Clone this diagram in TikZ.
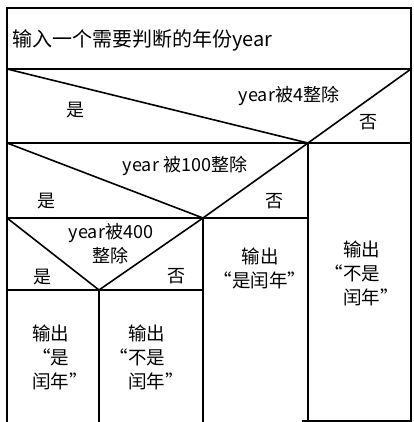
\documentclass[tikz,border=0pt]{standalone}
\usepackage{fontspec}
\setmainfont{Noto Sans CJK SC}
\begin{document}
\begin{tikzpicture}[x=1pt,y=-1pt,
  ln/.style={line width=1.6pt,black},
  lbl/.style={font=\fontsize{18}{22}\selectfont,inner sep=0pt},
  big/.style={font=\fontsize{20}{24}\selectfont,inner sep=0pt,anchor=west},
  outtxt/.style={font=\fontsize{18.5}{24}\selectfont,inner sep=0pt,align=left,anchor=west}]
\useasboundingbox (0,0) rectangle (413,422);
% corners
\coordinate (TL) at (7,8);
\coordinate (TR) at (411,8);
\coordinate (A1) at (7,69);
\coordinate (A2) at (411,69);
\coordinate (P1) at (308,143);
\coordinate (B1) at (7,143);
\coordinate (B2) at (411,143);
\coordinate (P2) at (203,218);
\coordinate (C1) at (7,218);
\coordinate (C2) at (308,218);
\coordinate (P3) at (99,290);
\coordinate (D1) at (7,290);
\coordinate (D2) at (203,290);
% frame
\draw[ln] (7,422) -- (TL) -- (TR) -- (411,422);
\draw[ln] (A1) -- (A2);
\draw[ln] (A1) -- (P1) -- (A2);
\draw[ln] (B1) -- (B2);
\draw[ln] (B1) -- (P2) -- (P1);
\draw[ln] (P1) -- (308,422);
\draw[ln] (C1) -- (C2);
\draw[ln] (C1) -- (P3) -- (P2);
\draw[ln] (P2) -- (203,422);
\draw[ln] (D1) -- (D2);
\draw[ln] (P3) -- (99,422);
\draw[ln] (302,421) -- (411,421);
% texts
\node[big] (t0) at (12,40) {输入一个需要判断的年份year};
\node[lbl] (q1) at (289,96) {year被4整除};
\node[lbl] (y1) at (75,110) {是};
\node[lbl] (n1) at (368,122) {否};
\node[lbl] (q2) at (185,166) {year 被100整除};
\node[lbl] (y2) at (46,201) {是};
\node[lbl] (n2) at (274,201) {否};
\node[lbl] (q3a) at (111,233) {year被400};
\node[lbl] (q3b) at (110,256) {整除};
\node[lbl] (y3) at (42,277) {是};
\node[lbl] (n3) at (176,276) {否};
\node[outtxt] (o1) at (32,357) {输出\\“是\\闰年”};
\node[outtxt] (o2) at (128,357) {输出\\\llap{“}不是\\闰年”};
\node[outtxt,align=center,anchor=center] (o3) at (260,268) {输出\\“是闰年”};
\node[outtxt] (o4) at (343,273) {输出\\\llap{“}不是\\闰年”};
\end{tikzpicture}
\end{document}
